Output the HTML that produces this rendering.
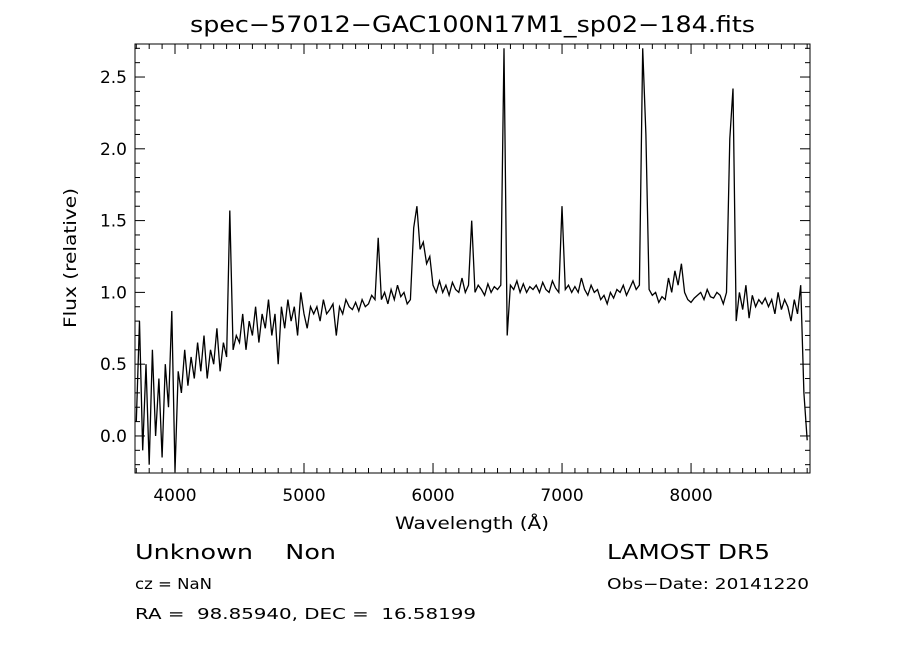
<!DOCTYPE html>
<html><head><meta charset="utf-8"><style>
body{margin:0;background:#fff;}
svg{display:block;font-family:"DejaVu Sans","Liberation Sans",sans-serif;}
</style></head><body>
<svg id="chart" width="900" height="649" viewBox="0 0 900 649">
<text x="190" y="32" font-size="22" textLength="565" lengthAdjust="spacingAndGlyphs">spec−57012−GAC100N17M1_sp02−184.fits</text>
<rect x="135" y="44" width="675" height="429" fill="none" stroke="#000" stroke-width="1"/>
<g id="ticks"></g>
<g id="labels" font-size="17"></g>
<polyline id="spec" fill="none" stroke="#000" stroke-width="1.3"/>
<text x="395" y="529" font-size="17" textLength="154" lengthAdjust="spacingAndGlyphs">Wavelength (Å)</text>
<text x="76" y="258" font-size="17" text-anchor="middle" textLength="140" lengthAdjust="spacingAndGlyphs" transform="rotate(-90 76 258)">Flux (relative)</text>
<text x="135" y="559" font-size="20" textLength="201" lengthAdjust="spacingAndGlyphs">Unknown&#160;&#160;&#160;&#160;Non</text>
<text x="607" y="559" font-size="20" textLength="163" lengthAdjust="spacingAndGlyphs">LAMOST DR5</text>
<text x="135" y="589" font-size="15" textLength="77" lengthAdjust="spacingAndGlyphs">cz = NaN</text>
<text x="607" y="589" font-size="15" textLength="202" lengthAdjust="spacingAndGlyphs">Obs−Date: 20141220</text>
<text x="135" y="619" font-size="15" textLength="341" lengthAdjust="spacingAndGlyphs">RA =&#160;&#160;98.85940, DEC =&#160;&#160;16.58199</text>
</svg>
<script>
const xTicks=[4000,5000,6000,7000,8000];
const yTicks=[0.0,0.5,1.0,1.5,2.0,2.5];
const yTickLabels=["0.0","0.5","1.0","1.5","2.0","2.5"];
const waveStart=3700, waveStep=25;
const flux=[
0.1,0.8,-0.1,0.5, -0.2,0.6,0.0,0.4, -0.15,0.5,0.2,0.87, -0.25,0.45,0.3,0.6,
0.35,0.55,0.4,0.65, 0.45,0.7,0.4,0.6, 0.5,0.75,0.45,0.65, 0.55,1.57,0.6,0.7,
0.65,0.85,0.6,0.8, 0.7,0.9,0.65,0.85, 0.75,0.95,0.7,0.85, 0.5,0.9,0.75,0.95,
0.8,0.9,0.7,1.0, 0.85,0.75,0.9,0.85, 0.9,0.8,0.95,0.85, 0.88,0.92,0.7,0.9,
0.85,0.95,0.9,0.88, 0.93,0.87,0.95,0.9, 0.92,0.98,0.95,1.38, 0.95,1.0,0.92,1.02,
0.95,1.05,0.97,1.0, 0.92,0.95,1.45,1.6, 1.3,1.35,1.2,1.25, 1.05,1.0,1.08,1.0,
1.05,0.98,1.07,1.02, 1.0,1.1,1.0,1.05, 1.5,1.0,1.05,1.02, 0.98,1.06,1.0,1.04,
1.02,1.05,2.7,0.7, 1.05,1.02,1.08,1.0, 1.06,1.0,1.04,1.02, 1.05,1.0,1.07,1.02,
1.0,1.08,1.03,1.0, 1.6,1.02,1.05,1.0, 1.04,1.0,1.1,1.02, 0.98,1.05,1.0,1.02,
0.95,0.98,0.92,1.0, 0.96,1.02,1.0,1.05, 0.98,1.03,1.08,1.02, 1.05,2.7,2.1,1.02,
0.98,1.0,0.93,0.97, 0.95,1.1,1.0,1.15, 1.05,1.2,1.0,0.95, 0.93,0.96,0.98,1.0,
0.95,1.02,0.97,0.96, 1.0,0.98,0.92,1.0, 2.07,2.42,0.8,1.0, 0.88,1.05,0.82,0.98,
0.9,0.95,0.92,0.96, 0.9,0.95,0.85,1.0, 0.88,0.95,0.9,0.8, 0.95,0.85,1.05,0.3,
-0.03];
const X0=135,X1=810,Y0=44,Y1=473,XMIN=3690,XMAX=8922,YMIN=-0.258,YMAX=2.73;
const sx=w=>X0+(w-XMIN)/(XMAX-XMIN)*(X1-X0);
const sy=f=>Y1-(f-YMIN)/(YMAX-YMIN)*(Y1-Y0);
const NS="http://www.w3.org/2000/svg";
const tg=document.getElementById('ticks'), lg=document.getElementById('labels');
function line(x1,y1,x2,y2){const l=document.createElementNS(NS,'line');
l.setAttribute('x1',x1);l.setAttribute('y1',y1);l.setAttribute('x2',x2);l.setAttribute('y2',y2);
l.setAttribute('stroke','#000');


tg.appendChild(l);}
for(let w=3700;w<=8900;w+=100){const x=sx(w);const len=(w%1000===0)?10:5;line(x,Y1,x,Y1-len);line(x,Y0,x,Y0+len);}
for(let k=-2;k<=27;k++){const v=k/10;const y=sy(v);const len=(k%5===0)?10:5;line(X0,y,X0+len,y);line(X1,y,X1-len,y);}
xTicks.forEach(w=>{const t=document.createElementNS(NS,'text');t.setAttribute('x',sx(w));t.setAttribute('y',Y1+28);t.setAttribute('text-anchor','middle');t.textContent=w;


lg.appendChild(t);});
yTicks.forEach((v,i)=>{const t=document.createElementNS(NS,'text');t.setAttribute('x',X0-8);t.setAttribute('y',sy(v)+6);t.setAttribute('text-anchor','end');t.textContent=yTickLabels[i];


lg.appendChild(t);});
const pts=flux.map((f,i)=>{const y=Math.max(Y0,Math.min(Y1,sy(f)));return sx(waveStart+i*waveStep).toFixed(1)+','+y.toFixed(1);});
document.getElementById('spec').setAttribute('points',pts.join(' '));
</script>
</body></html>
